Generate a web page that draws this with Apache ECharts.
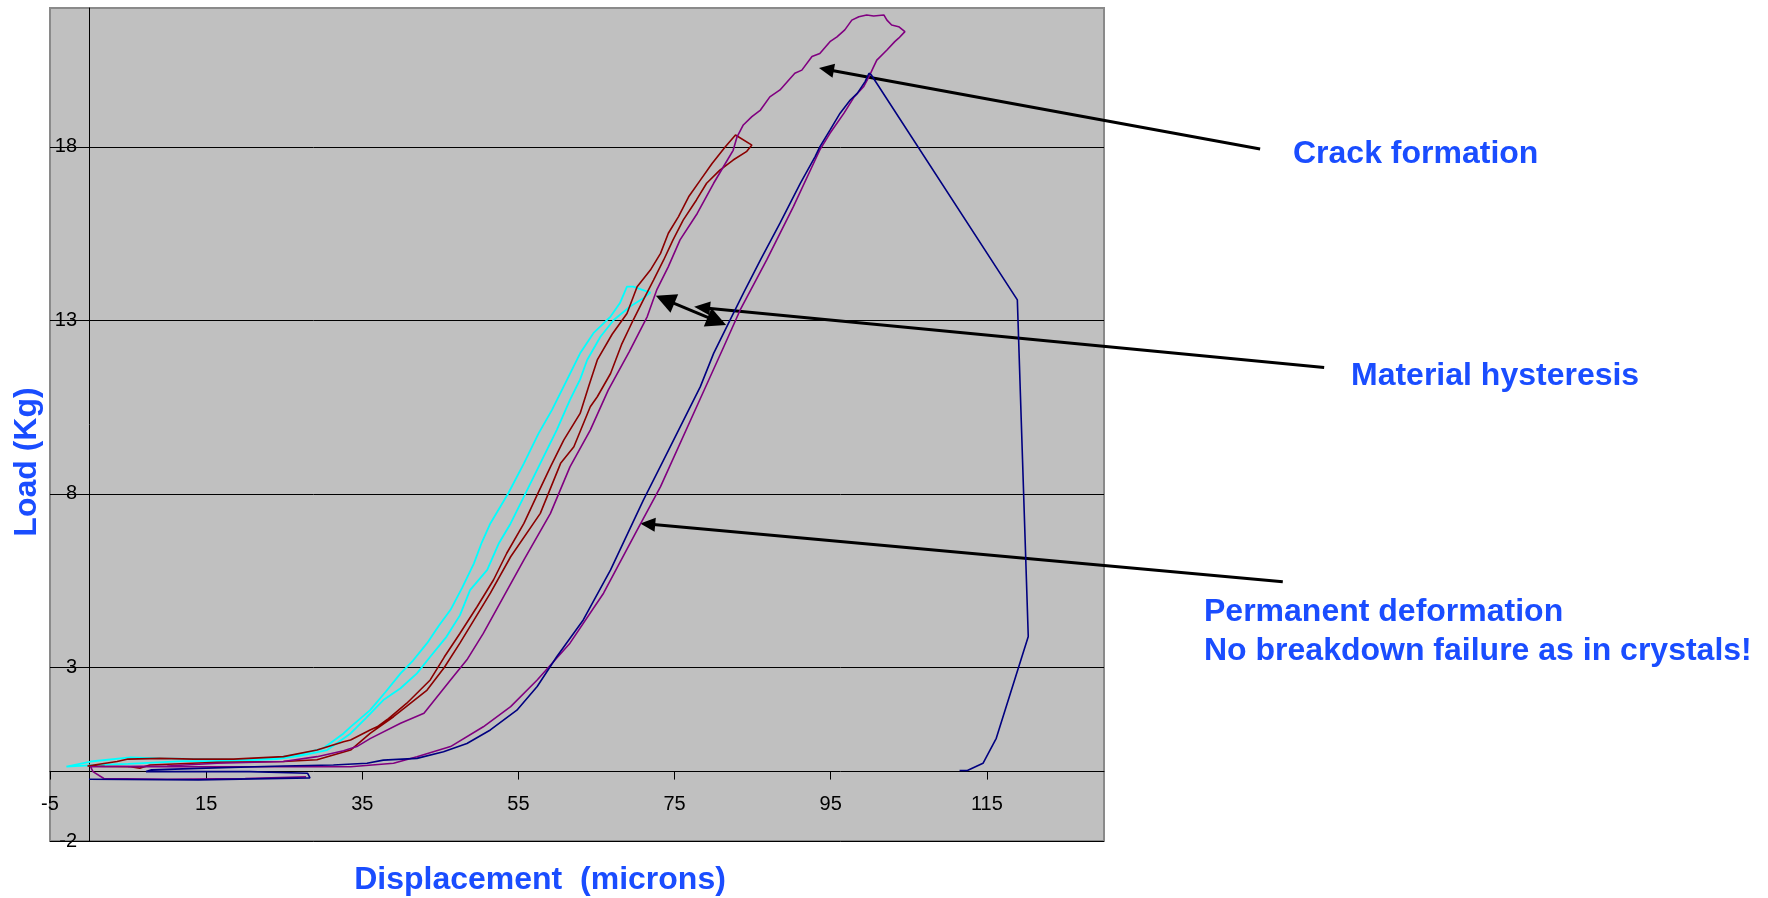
<!DOCTYPE html>
<html>
<head>
<meta charset="utf-8">
<script src="https://cdn.jsdelivr.net/npm/echarts@6/dist/echarts.min.js"></script>
<style>
html,body{margin:0;padding:0;background:#fff;}
#chart{width:1768px;height:898px;}
</style>
</head>
<body>
<div id="chart"></div>
<script>
// ---- Data (displacement in microns, load in Kg) ----
const xTicks = [-5, 15, 35, 55, 75, 95, 115];
const yTicks = [-2, 3, 8, 13, 18];

const cyanUp = [[-2.9,0.14],[0.2,0.29],[5.3,0.41],[9.1,0.38],[15,0.36],[20.7,0.34],[24,0.4],[27.0,0.5],[30.0,0.67],[32.6,1.1],[33.5,1.29],[36.0,1.77],[38.0,2.3],[39.9,2.83],[41.5,3.2],[43.3,3.7],[44.8,4.2],[46.3,4.66],[47.8,5.3],[49.3,6.0],[50.3,6.6],[51.4,7.15],[53.7,8.02],[55.7,8.88],[57.6,9.75],[59.3,10.42],[61.2,11.28],[62.9,12.05],[64.6,12.63],[66.8,13.11],[68.0,13.5],[68.9,13.97],[69.7,13.97],[71.9,13.8]];
const cyanDown = [[71.0,13.64],[69.3,13.4],[67.2,13.01],[65.5,12.53],[63.8,11.86],[62.9,11.3],[61.6,10.71],[59.9,9.84],[57.8,8.88],[55.7,7.92],[54.0,7.15],[52.5,6.58],[51.0,5.81],[48.8,5.23],[47.5,4.5],[45.8,3.89],[43.7,3.31],[42.0,2.83],[39.9,2.4],[37.7,2.06],[35.5,1.55],[33.5,1.1],[30.5,0.62],[27.0,0.45],[24.0,0.36],[18.0,0.3],[12.0,0.3],[5.0,0.22],[0.0,0.18],[-2.9,0.14]];

const redUp = [[-0.2,0.16],[3.6,0.29],[5.0,0.36],[9.1,0.38],[13.4,0.36],[18.5,0.36],[24.9,0.43],[29.2,0.62],[32.6,0.86],[33.5,0.91],[36.0,1.2],[36.9,1.29],[38.2,1.5],[40.7,1.97],[43.7,2.64],[45.5,3.3],[47.5,3.98],[49.7,4.75],[51.8,5.52],[53.5,6.29],[55.7,7.15],[57.4,7.97],[59.1,8.78],[60.8,9.55],[62.9,10.32],[64.0,11.1],[65.1,11.86],[67.0,12.6],[68.9,13.2],[70.2,13.97],[71.9,14.45],[73.2,14.93],[74.2,15.51],[75.5,15.99],[76.8,16.56],[78.3,17.04],[79.8,17.52],[81.5,18.0],[82.8,18.34]];
const redDown = [[84.9,18.05],[84.2,17.86],[82.5,17.62],[80.8,17.33],[79.1,16.95],[77.8,16.47],[76.1,15.89],[74.8,15.32],[73.6,14.74],[72.3,14.16],[71.0,13.59],[69.7,13.01],[68.2,12.3],[66.8,11.47],[65.1,10.8],[64.2,10.51],[62.1,9.36],[60.4,8.88],[57.8,7.44],[54.0,6.19],[51.4,5.14],[47.5,3.7],[45.5,3.0],[43.3,2.35],[39.0,1.58],[36.0,1.1],[33.5,0.62],[29.2,0.34],[24.9,0.29],[16.4,0.27],[7.8,0.19],[6.5,0.1],[5.3,0.14],[2.0,0.15],[-0.2,0.16]];

const purpleBase = [[27.8,-0.15],[20.0,-0.2],[10.0,-0.22],[1.9,-0.2],[0.5,0.0],[0.2,0.14]];
const purpleUp = [[10.0,0.16],[16.4,0.24],[24.9,0.29],[29.2,0.43],[32.6,0.6],[34.3,0.72],[36.0,0.95],[39.9,1.39],[42.9,1.68],[46.3,2.64],[48.4,3.22],[50.5,3.98],[53.1,5.04],[55.7,6.1],[59.1,7.44],[61.6,8.78],[64.2,9.84],[66.5,10.99],[67.2,11.28],[69.2,12.1],[71.5,13.11],[72.7,13.87],[74.2,14.55],[75.7,15.32],[77.9,16.08],[80.0,16.95],[81.5,17.52],[82.5,17.9],[83.0,18.29],[83.8,18.63],[84.9,18.87],[86.0,19.06],[87.2,19.44],[88.5,19.64],[89.8,19.97],[90.4,20.12],[91.3,20.21],[92.6,20.6],[93.6,20.69],[94.9,21.03],[95.8,21.17],[96.8,21.37],[97.7,21.65],[98.6,21.75],[99.6,21.8],[100.5,21.77],[101.8,21.8],[102.2,21.65],[102.8,21.51],[103.7,21.46],[104.5,21.32]];
const purpleDown = [[103.7,21.13],[103.2,21.03],[102.2,20.79],[100.9,20.5],[100.5,20.31],[99.9,20.02],[99.2,19.73],[98.0,19.44],[96.7,18.97],[94.9,18.39],[93.6,17.91],[93.0,17.62],[90.2,16.27],[86.8,14.74],[83.4,13.3],[81.3,12.24],[78.3,10.75],[73.2,8.21],[70.2,6.96],[65.9,5.14],[61.6,3.7],[57.4,2.64],[54.0,1.87],[50.5,1.29],[46.3,0.72],[42.0,0.43],[39.0,0.24],[33.5,0.14],[25.0,0.14],[15.0,0.14],[5.0,0.14]];

const navyBase = [[0.0,-0.22],[14.0,-0.24],[28.3,-0.18],[28.0,-0.05],[20.6,0.0],[7.3,0.0],[8.0,0.05],[15.0,0.1],[24.9,0.16],[31.3,0.19]];
const navyUp = [[35.6,0.24],[37.7,0.33],[42.0,0.38],[45.4,0.57],[48.4,0.81],[51.4,1.2],[54.8,1.77],[57.4,2.45],[59.9,3.31],[63.3,4.37],[66.8,5.81],[71.0,7.82],[73.6,8.98],[78.3,11.09],[80.0,12.05],[82.1,13.01],[83.8,13.78],[86.0,14.74],[88.5,15.8],[91.1,16.95],[93.0,17.72],[93.6,18.0],[94.9,18.48],[96.2,18.97],[97.5,19.35],[98.4,19.54],[99.4,19.88],[99.9,20.12]];
const navyCrack = [[100.2,20.07],[118.9,13.59],[120.3,3.89],[116.2,0.96],[114.5,0.24],[112.5,0.03],[111.5,0.03]];

// annotation texts and arrows (tail -> tip, in data units)
const notes = [
  {text: 'Crack formation', x: 1293, y: 154},
  {text: 'Material hysteresis', x: 1351, y: 376},
  {text: 'Permanent deformation', x: 1204, y: 612},
  {text: 'No breakdown failure as in crystals!', x: 1204, y: 651}
];
const arrows = [
  {from: [150.0, 17.94], to: [93.5, 20.27], len: 15, half: 7, both: false},
  {from: [158.2, 11.64], to: [77.5, 13.39], len: 16, half: 7, both: false},
  {from: [72.6, 13.71], to: [81.6, 12.87], len: 20, half: 10, both: true},
  {from: [152.9, 5.47], to: [70.6, 7.15], len: 15, half: 7, both: false}
];

// pick a narrow font for tick labels if one is installed
function fontAvailable(name) {
  const c = document.createElement('canvas').getContext('2d');
  const t = '0123456789 mmmwwwlli';
  c.font = '40px monospace'; const a = c.measureText(t).width;
  c.font = "40px '" + name + "', monospace"; const b = c.measureText(t).width;
  return Math.abs(a - b) > 0.5;
}
const narrow = fontAvailable('Liberation Sans Narrow');
const labelFont = narrow ? "'Liberation Sans Narrow', sans-serif" : "'Liberation Sans', Arial, sans-serif";
const labelSize = narrow ? 22 : 20;

const chart = echarts.init(document.getElementById('chart'), null, {renderer: 'canvas'});
const titleFont = "bold 32px 'Liberation Sans', Arial, sans-serif";
const blue = '#1a4dff';

function lineSeries(name, color, data, w) {
  return {
    name: name, type: 'line', data: data, showSymbol: false, symbol: 'none',
    smooth: false, clip: false, animation: false,
    lineStyle: {color: color, width: w || 1.5}
  };
}

chart.setOption({
  animation: false,
  backgroundColor: '#ffffff',
  grid: {left: 50, right: 664, top: 8, bottom: 57, show: true,
         backgroundColor: '#c0c0c0', borderColor: '#8a8a8a', borderWidth: 2},
  xAxis: {
    type: 'value', min: -5, max: 130, interval: 20,
    axisLine: {show: true, onZero: false, lineStyle: {color: '#000', width: 1}},
    axisTick: {show: true, inside: false, length: 8, customValues: xTicks, lineStyle: {color: '#000'}},
    axisLabel: {customValues: xTicks, color: '#000', fontSize: labelSize, fontFamily: labelFont, margin: 23},
    splitLine: {show: false}
  },
  yAxis: {
    type: 'value', min: -2, max: 22, interval: 5,
    axisLine: {show: true, onZero: false, lineStyle: {color: '#000', width: 1}},
    axisTick: {show: true, inside: false, length: 5, customValues: yTicks, lineStyle: {color: '#000'}},
    axisLabel: {customValues: yTicks, color: '#000', fontSize: labelSize, fontFamily: labelFont, margin: 12},
    splitLine: {show: true, lineStyle: {color: '#000', width: 1}}
  },
  series: [
    lineSeries('cyan', '#00ffff', cyanUp.concat(cyanDown), 1.8),
    lineSeries('red', '#8b0000', redUp.concat(redDown), 1.6),
    lineSeries('purple', '#800080', purpleBase.concat(purpleUp, purpleDown), 1.6),
    lineSeries('navy', '#000080', navyBase.concat(navyUp, navyCrack), 1.6)
  ]
});

// move both axes onto the zero lines of the other axis (offset derived from the scales)
const zeroPt = chart.convertToPixel({gridIndex: 0}, [0, 0]);
const cornerPt = chart.convertToPixel({gridIndex: 0}, [-5, -2]);
chart.setOption({
  xAxis: {offset: -(cornerPt[1] - zeroPt[1])},
  yAxis: {offset: -(zeroPt[0] - cornerPt[0])}
});

// build annotations
const g = [];
g.push({type: 'text', silent: true, style: {text: 'Load (Kg)', x: 0, y: 0, font: titleFont, fill: blue, align: 'center', verticalAlign: 'middle'},
        x: 27, y: 462, rotation: Math.PI / 2});
g.push({type: 'text', silent: true, style: {text: 'Displacement  (microns)', x: 540, y: 880, font: titleFont, fill: blue, align: 'center', verticalAlign: 'middle'}});
notes.forEach(n => g.push({type: 'text', silent: true, style: {text: n.text, x: n.x, y: n.y, font: titleFont, fill: blue, align: 'left', verticalAlign: 'middle'}}));

function head(tip, dx, dy, len, half) {
  const bx = tip[0] - dx * len, by = tip[1] - dy * len;
  return [[tip[0], tip[1]], [bx - dy * half, by + dx * half], [bx + dy * half, by - dx * half]];
}
arrows.forEach(a => {
  const p0 = chart.convertToPixel({gridIndex: 0}, a.from);
  const p1 = chart.convertToPixel({gridIndex: 0}, a.to);
  const L = Math.hypot(p1[0] - p0[0], p1[1] - p0[1]);
  const dx = (p1[0] - p0[0]) / L, dy = (p1[1] - p0[1]) / L;
  const s = a.both ? [p0[0] + dx * a.len * 0.7, p0[1] + dy * a.len * 0.7] : p0;
  const e = [p1[0] - dx * a.len * 0.7, p1[1] - dy * a.len * 0.7];
  g.push({type: 'line', silent: true, shape: {x1: s[0], y1: s[1], x2: e[0], y2: e[1]}, style: {stroke: '#000', lineWidth: 3}});
  g.push({type: 'polygon', silent: true, shape: {points: head(p1, dx, dy, a.len, a.half)}, style: {fill: '#000'}});
  if (a.both) g.push({type: 'polygon', silent: true, shape: {points: head(p0, -dx, -dy, a.len, a.half)}, style: {fill: '#000'}});
});
chart.setOption({graphic: g});
</script>
</body>
</html>
